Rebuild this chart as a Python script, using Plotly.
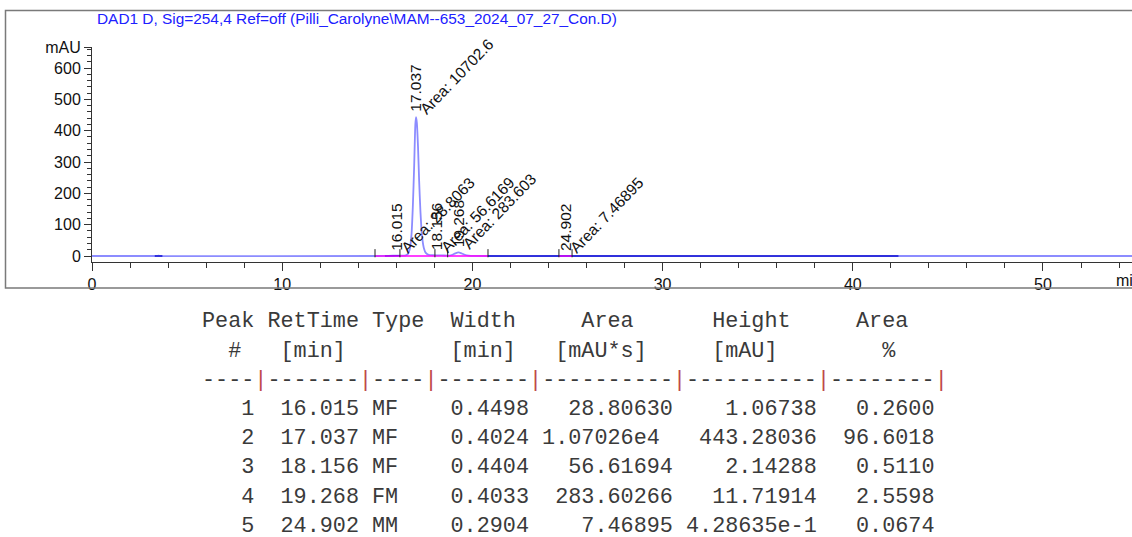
import plotly.graph_objects as go

# ---------------- data ----------------
title_text = "DAD1 D, Sig=254,4 Ref=off (Pilli_Carolyne\\MAM--653_2024_07_27_Con.D)"

time_min = [0, 3.3, 3.4, 3.5, 3.6, 3.7, 14.8, 15.4, 15.8, 16.015, 16.2, 16.4, 16.5, 16.6, 16.7,
            16.8, 16.87, 16.94, 17.0, 17.037, 17.08, 17.14, 17.2, 17.27, 17.35, 17.45, 17.55,
            17.7, 17.9, 18.156, 18.4, 18.8, 18.95, 19.1, 19.268, 19.45, 19.6, 19.8, 20.1, 20.82,
            24.55, 24.7, 24.902, 25.1, 25.24, 42.4, 54.7]
signal_mau = [0, 0, 0.4, 0.8, 0.4, 0, 0, 0.3, 0.8, 1.07, 0.8, 1.2, 2, 6, 20,
              70, 160, 290, 420, 443, 425, 350, 240, 140, 65, 25, 10,
              4, 2.5, 2.14, 1.8, 1.5, 4, 8.5, 11.7, 8, 4, 1.5, 0.3, 0,
              0, 0.2, 0.43, 0.2, 0, 0, 0]
dark_segments = [(3.3, 3.7), (15.4, 16.2), (20.82, 42.4)]

peak_num = [1, 2, 3, 4, 5]
ret_time = [16.015, 17.037, 18.156, 19.268, 24.902]
peak_type = ["MF", "MF", "MF", "FM", "MM"]
width_min = ["0.4498", "0.4024", "0.4404", "0.4033", "0.2904"]
area_str = ["28.80630", "1.07026e4", "56.61694", "283.60266", "7.46895"]
height_mau = [1.06738, 443.28036, 2.14288, 11.71914, 0.428635]
height_str = ["1.06738", "443.28036", "2.14288", "11.71914", "4.28635e-1"]
area_pct = ["0.2600", "96.6018", "0.5110", "2.5598", "0.0674"]
area_label = ["28.8063", "10702.6", "56.6169", "283.603", "7.46895"]
peak_start = [14.88, 16.19, 18.03, 18.70, 24.55]
peak_end = [16.19, 18.03, 18.70, 20.82, 25.24]

x_ticks = [0, 10, 20, 30, 40, 50]
y_ticks = [0, 100, 200, 300, 400, 500, 600]

# ---------------- layout helpers ----------------
W, H = 1132, 537
PL, PR, PT, PB = 92, 1132, 47, 262   # plot area in pixels
X_RANGE = [0, 54.68]
Y_RANGE = [-19.1, 667.2]


def pxx(p):
    return (p - PL) / (PR - PL)


def pxy(p):
    return (PB - p) / (PB - PT)


fig = go.Figure()

# signal (light blue)
fig.add_trace(go.Scatter(x=time_min, y=signal_mau, mode="lines",
                         line=dict(color="#8c8cff", width=1.8, shape="spline", smoothing=0.6),
                         hoverinfo="skip"))
# dark blue portions
for a, b in dark_segments:
    xs = [t for t in time_min if a <= t <= b]
    ys = [v for t, v in zip(time_min, signal_mau) if a <= t <= b]
    fig.add_trace(go.Scatter(x=xs, y=ys, mode="lines",
                             line=dict(color="#1010d0", width=1.5), hoverinfo="skip"))
# magenta baselines
bx, by = [], []
for s, e in zip(peak_start, peak_end):
    bx += [s, e, None]
    by += [0, 0, None]
fig.add_trace(go.Scatter(x=bx, y=by, mode="lines",
                         line=dict(color="#ff00ff", width=1.3), hoverinfo="skip"))
# event tick marks
ex, ey = [], []
for t in sorted(set(peak_start + peak_end)):
    ex += [t, t, None]
    ey += [-4, 22, None]
fig.add_trace(go.Scatter(x=ex, y=ey, mode="lines",
                         line=dict(color="#222222", width=1), hoverinfo="skip"))

ann = []
lab_font = dict(family="Liberation Sans, Arial", size=15.5, color="#111111")
for rt, h, al in zip(ret_time, height_mau, area_label):
    ann.append(dict(x=rt, y=h, xref="x", yref="y", text=f"{rt:.3f}", textangle=-90,
                    showarrow=False, xanchor="center", yanchor="bottom", yshift=3,
                    font=lab_font))
    ann.append(dict(x=rt, y=h, xref="x", yref="y", text=f"Area: {al}", textangle=-46,
                    showarrow=False, xanchor="left", yanchor="bottom", xshift=-2, yshift=-3,
                    font=lab_font))

# title
ann.append(dict(x=pxx(95), y=pxy(19), xref="paper", yref="paper", text=title_text,
                showarrow=False, xanchor="left", yanchor="middle",
                font=dict(family="Liberation Sans, Arial", size=15.4, color="#2020ff")))
# x unit
ann.append(dict(x=pxx(1114), y=pxy(280), xref="paper", yref="paper", text="min",
                showarrow=False, xanchor="left", yanchor="middle",
                font=dict(family="Liberation Sans, Arial", size=16, color="#111111")))

# ---------------- table ----------------
NB = "\u00a0"
mono = dict(family="Liberation Mono, Courier New, monospace", size=21.8, color="#3a3a3a")


def nb(s):
    return s.replace(" ", NB)


hdr1 = "Peak RetTime Type  Width     Area      Height     Area  "
hdr2 = "  #" + " " * 3 + "[min]" + " " * 8 + "[min]" + " " * 3 + "[mAU*s]" + " " * 5 + "[mAU]" + " " * 8 + "%"
seg_w = [4, 7, 4, 7, 10, 10, 8]
dash = "".join("-" * w + '<span style="color:#c04848">|</span>' for w in seg_w)

rows = []
for p, rt, t, w, a, h, pc in zip(peak_num, ret_time, peak_type, width_min, area_str,
                                  height_str, area_pct):
    a_col = (a + " ").rjust(11) if "e" in a else a.rjust(11)
    rows.append(nb(f"{p:>4}{rt:>8.3f} {t:<4}{w:>8}{a_col}{h:>11}{pc:>9}"))

table_lines = [nb(hdr1), nb(hdr2), dash] + rows
table_y = [321, 351, 380, 409, 438, 467, 497, 526]
for line, yy in zip(table_lines, table_y):
    ann.append(dict(x=pxx(200), y=pxy(yy), xref="paper", yref="paper", text=line,
                    showarrow=False, xanchor="left", yanchor="middle", font=mono))

# frame
shapes = [dict(type="rect", xref="paper", yref="paper", x0=pxx(5.5), x1=pxx(1140),
               y0=pxy(288), y1=pxy(10.5), line=dict(color="#7a7a7a", width=1.5))]

tick_font = dict(family="Liberation Sans, Arial", size=16, color="#111111")
fig.update_layout(
    width=W, height=H,
    margin=dict(l=PL, r=W - PR, t=PT, b=H - PB),
    paper_bgcolor="white", plot_bgcolor="white",
    showlegend=False,
    annotations=ann, shapes=shapes,
    xaxis=dict(range=X_RANGE, tickvals=x_ticks, ticks="outside", ticklen=8, tickwidth=1,
               tickcolor="#333333", showline=True, linecolor="#333333", linewidth=1,
               showgrid=False, zeroline=False, tickfont=tick_font,
               minor=dict(dtick=2, ticks="outside", ticklen=5, tickcolor="#333333")),
    yaxis=dict(range=Y_RANGE, tickvals=y_ticks + [Y_RANGE[1] - 0.2],
               ticktext=[str(v) for v in y_ticks] + ["mAU"],
               ticks="outside", ticklen=7, tickwidth=1,
               tickcolor="#333333", showline=True, linecolor="#333333", linewidth=1,
               showgrid=False, zeroline=False, tickfont=tick_font,
               minor=dict(dtick=20, ticks="outside", ticklen=4, tickcolor="#333333")),
)

fig.write_html("out.html")
